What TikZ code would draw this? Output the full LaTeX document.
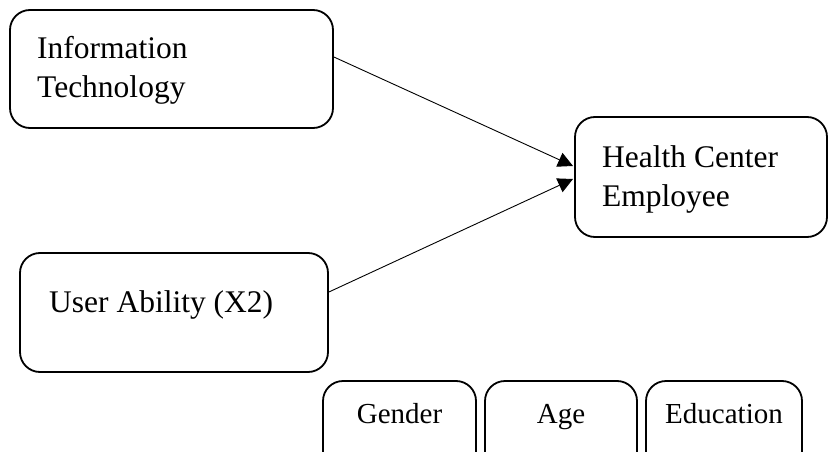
\documentclass[tikz,border=0pt]{standalone}
\usepackage{fontspec}
\setmainfont{Liberation Serif}
\usetikzlibrary{arrows.meta}
\begin{document}
\begin{tikzpicture}[x=1pt,y=-1pt,
  box/.style={draw,line width=1.8pt,rounded corners=20pt,inner sep=0pt},
  lbl/.style={font=\fontsize{31.5}{39}\selectfont,inner sep=0pt,align=left},
  small/.style={font=\fontsize{29}{33}\selectfont},
  conn/.style={line width=0.9pt,-{Triangle[length=15pt,width=15pt]}}]
\useasboundingbox (0,0) rectangle (830,452);
\clip (0,0) rectangle (830,452);
\node[box,minimum width=323pt,minimum height=118pt] (it) at (171.5,69) {};
\node[box,minimum width=252pt,minimum height=120pt] (hc) at (701,177) {};
\node[box,minimum width=308pt,minimum height=119pt] (ua) at (174,312.5) {};
\node[box,minimum width=153pt,minimum height=100pt] (ge) at (399.5,431) {};
\node[box,minimum width=152pt,minimum height=100pt] (ag) at (561,431) {};
\node[box,minimum width=156pt,minimum height=100pt] (ed) at (724,431) {};
\node[lbl,anchor=base west] (itl) at (37,97) {Information\\Technology};
\node[lbl,anchor=base west] (hcl) at (602,206) {Health Center\\Employee};
\node[lbl,anchor=base west] (ual) at (49,312) {User Ability (X2)};
\node[lbl,small,anchor=base] (gel) at (399.5,423) {Gender};
\node[lbl,small,anchor=base] (agl) at (561,423) {Age};
\node[lbl,small,anchor=base] (edl) at (724,423) {Education};
\coordinate (t1) at (573,166);
\coordinate (t2) at (573,179);
\draw[conn] (it.east |- 0,57) -- (t1);
\draw[conn] (ua.east |- 0,292) -- (t2);
\end{tikzpicture}
\end{document}
